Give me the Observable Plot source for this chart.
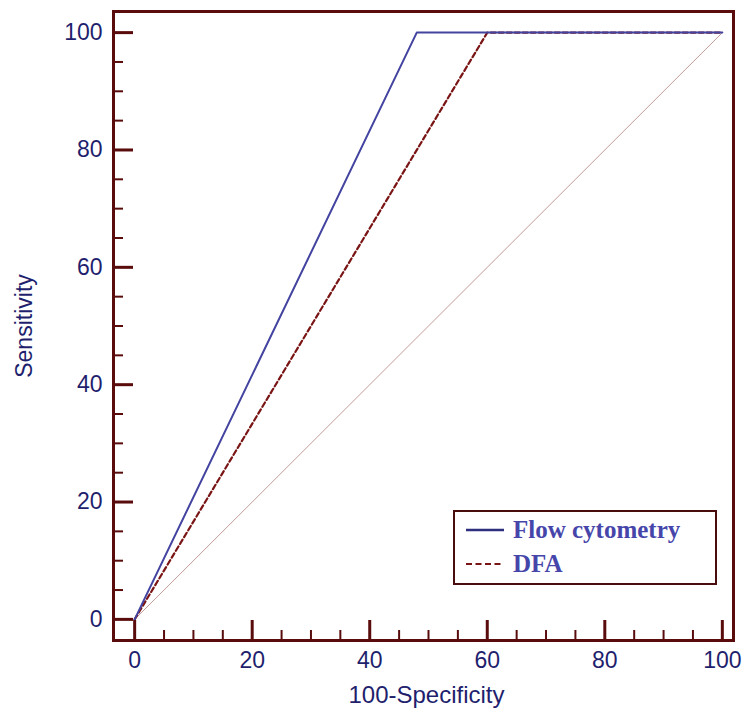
<!DOCTYPE html>
<html>
<head>
<meta charset="utf-8">
<script src="https://cdn.jsdelivr.net/npm/d3@7"></script>
<script src="https://cdn.jsdelivr.net/npm/@observablehq/plot@0.6"></script>
<style>
  html, body { margin: 0; padding: 0; background: #fff; }
  #wrap { position: relative; width: 743px; height: 713px; }
  #legend {
    position: absolute; left: 453px; top: 510px; width: 260px; height: 71px;
    border: 2px solid #4a0d0d; box-sizing: content-box; background: #fff;
    font-family: "Liberation Serif", "DejaVu Serif", serif; font-weight: bold;
    font-size: 25px; color: #4646aa;
  }
  .row { position: absolute; left: 10px; display: flex; align-items: center; }
  .row svg { margin-right: 8px; }
</style>
</head>
<body>
<div id="wrap"></div>
<script>
// ROC data (100-Specificity vs Sensitivity)
const flowX = [0, 48, 100];
const flowY = [0, 100, 100];
const dfaX = [0, 60, 100];
const dfaY = [0, 100, 100];
const refX = [0, 100];
const refY = [0, 100];
const majorTicks = [0, 20, 40, 60, 80, 100];
const minorTicks = [5, 10, 15, 25, 30, 35, 45, 50, 55, 65, 70, 75, 85, 90, 95];
const seriesNames = ["Flow cytometry", "DFA"];

const flow = flowX.map((x, i) => ({x, y: flowY[i]}));
const dfa = dfaX.map((x, i) => ({x, y: dfaY[i]}));
const ref = refX.map((x, i) => ({x, y: refY[i]}));

const W = 743, H = 713;
const mL = 113, mR = 10, mT = 11, mB = 73;
const pw = W - mL - mR, ph = H - mT - mB;
const frameColor = "#5a0c0c";
const textColor = "#1f1f6e";

const chart = Plot.plot({
  width: W, height: H,
  marginLeft: mL, marginRight: mR, marginTop: mT, marginBottom: mB,
  style: { fontFamily: "'Liberation Sans', Arial, sans-serif", fontSize: "23px", background: "#fff" },
  x: { domain: [-3.6, 101.9] },
  y: { domain: [-3.6, 103.6] },
  marks: [
    Plot.line(ref, { x: "x", y: "y", stroke: "#c49a9a", strokeWidth: 1 }),
    Plot.line(dfa, { x: "x", y: "y", stroke: "#7a1515", strokeWidth: 2.2, strokeDasharray: "5,3" }),
    Plot.line(flow, { x: "x", y: "y", stroke: "#4343a0", strokeWidth: 2 }),
    Plot.tickY(majorTicks, { y: d => d, insetRight: pw - 20, stroke: frameColor, strokeWidth: 3 }),
    Plot.tickY(minorTicks, { y: d => d, insetRight: pw - 10, stroke: frameColor, strokeWidth: 2 }),
    Plot.tickX(majorTicks, { x: d => d, insetTop: ph - 20, stroke: frameColor, strokeWidth: 3 }),
    Plot.tickX(minorTicks, { x: d => d, insetTop: ph - 10, stroke: frameColor, strokeWidth: 2 }),
    Plot.frame({ stroke: frameColor, strokeWidth: 3 }),
    Plot.axisX({ ticks: majorTicks, tickSize: 0, tickPadding: 11, fill: textColor, fontSize: 23, label: null }),
    Plot.axisY({ ticks: majorTicks, tickSize: 0, tickPadding: 11, fill: textColor, fontSize: 23, label: null }),
    Plot.text(["Sensitivity"], { text: d => d, frameAnchor: "left", textAnchor: "middle", lineAnchor: "middle", dx: -89, rotate: -90, fill: textColor, fontSize: 23 }),
    Plot.text(["100-Specificity"], { text: d => d, frameAnchor: "bottom", textAnchor: "middle", lineAnchor: "middle", dx: 3, dy: 55, fill: textColor, fontSize: 24 })
  ]
});

const wrap = document.getElementById("wrap");
wrap.appendChild(chart);

const legend = document.createElement("div");
legend.id = "legend";
legend.innerHTML = `
  <div class="row" style="top:4px">
    <svg width="40" height="10"><line x1="1" y1="5" x2="39" y2="5" stroke="#2f2f80" stroke-width="2.5"/></svg>
    <span>${seriesNames[0]}</span>
  </div>
  <div class="row" style="top:38px">
    <svg width="40" height="10"><line x1="1" y1="5" x2="39" y2="5" stroke="#7a1515" stroke-width="2" stroke-dasharray="6,3.5"/></svg>
    <span>${seriesNames[1]}</span>
  </div>`;
wrap.appendChild(legend);
</script>
</body>
</html>
